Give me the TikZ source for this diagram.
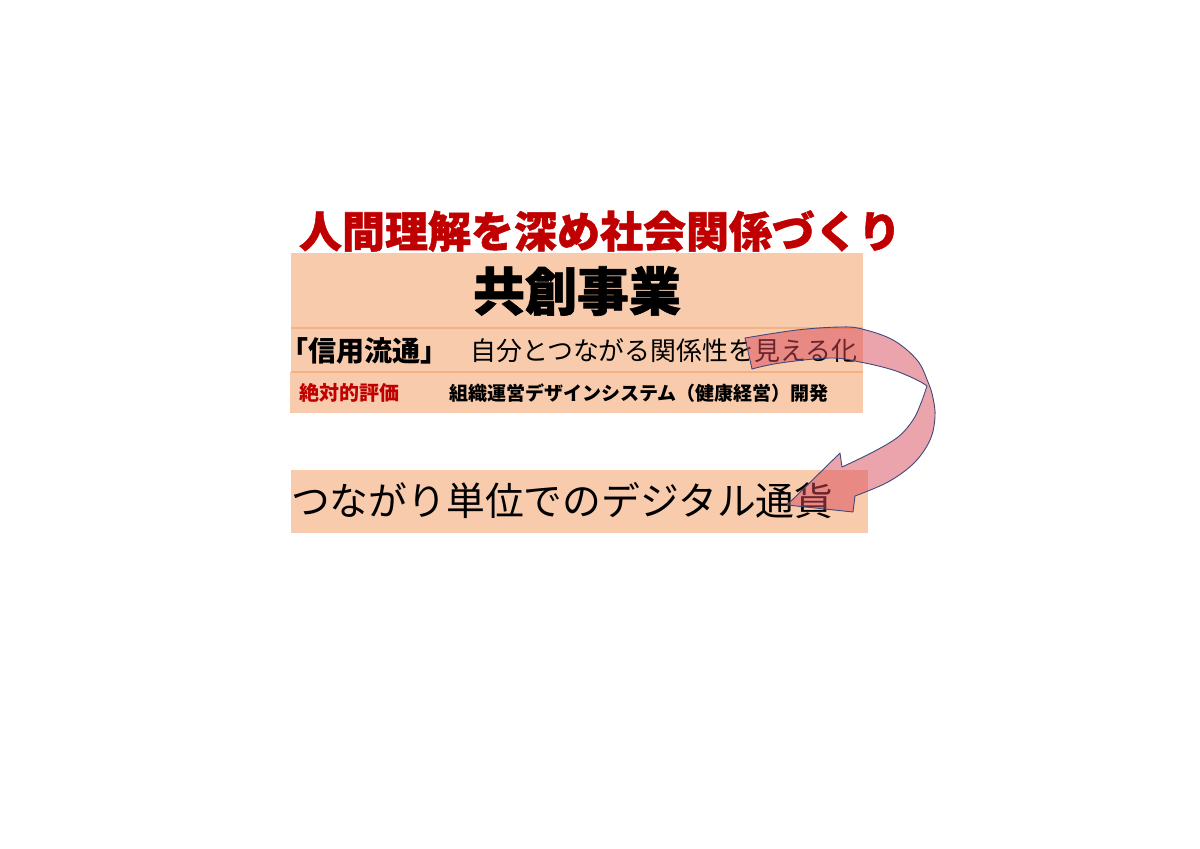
\documentclass[tikz,border=0pt]{standalone}
\usepackage{fontspec}
\newfontfamily\jp{Noto Sans CJK JP}
\newfontfamily\jpheavy[BoldFeatures={FakeBold=1.2}]{Noto Sans CJK JP}
\usetikzlibrary{calc}
\definecolor{peach}{HTML}{F8CBAD}
\definecolor{peachline}{HTML}{F4B183}
\definecolor{darkred}{HTML}{C00000}
\definecolor{arrowfill}{HTML}{D9485A}
\definecolor{arrowline}{HTML}{3F4A7A}
\tikzset{
  box/.style={fill=peach, draw=none},
  sep/.style={draw=peachline, line width=1.2pt},
  txt/.style={inner sep=0pt, outer sep=0pt, font=\jp},
  ribbon/.style={fill=arrowfill, fill opacity=0.5, draw=arrowline, line width=0.9pt, line join=round}
}
\begin{document}
\begin{tikzpicture}[x=1pt,y=-1pt]
\useasboundingbox[fill=white] (0,0) rectangle (1200,849);
% boxes
\path[box] (291,253) rectangle (863,328);
\path[box] (291,328) rectangle (863,372);
\path[box] (290,372) rectangle (863,413);
\path[box] (291,470) rectangle (868,533);
\draw[sep] (291,328) -- (863,328);
\draw[sep] (291,372) -- (863,372);
% title
\node[txt, font=\jpheavy\bfseries\fontsize{43}{43}\selectfont, text=darkred] (title) at (600,231) {人間理解を深め社会関係づくり};
% box 1
\node[txt, font=\jpheavy\bfseries\fontsize{52}{52}\selectfont] (kyoso) at (577,291) {共創事業};
% box 2
\node[txt, anchor=west, font=\jp\bfseries\fontsize{28}{28}\selectfont] (shinyo) at (280,351) {「信用流通」};
\node[txt, anchor=west, font=\jp\fontsize{25.9}{25.9}\selectfont] (jibun) at (470.5,351) {自分とつながる関係性を見える化};
% box 3
\node[txt, anchor=west, font=\jp\bfseries\fontsize{20}{20}\selectfont, text=darkred] (zettai) at (299,393) {絶対的評価};
\node[txt, anchor=west, font=\jp\bfseries\fontsize{19}{19}\selectfont] (soshiki) at (449,393) {組織運営デザインシステム（健康経営）開発};
% box 4
\node[txt, anchor=west, font=\jp\fontsize{38.8}{38.8}\selectfont] (tsunagari) at (291,501) {つながり単位でのデジタル通貨};
% curved arrow
\coordinate (tailA) at (745,338);
\coordinate (tailB) at (752,369);
\coordinate (barbL) at (853,512);
\coordinate (tip) at (787,505);
\coordinate (barbU) at (840,453);
\coordinate (neck) at (842,467);
\coordinate (twist) at (927,386);
\path[ribbon] (tailA) -- plot[smooth, tension=0.6] coordinates {(745,338) (797,330) (840,327) (862,329) (893,340) (917,360) (928,382) (933,398) (935,417) (930,440) (914,463) (888,482) (855,496)}
  -- (barbL) -- (tip) -- (barbU) -- (neck)
  -- plot[smooth, tension=0.6] coordinates {(842,467) (873,452) (898,437) (913,420) (921,403) (927,386)}
  -- plot[smooth, tension=0.6] coordinates {(927,386) (917,380) (893,370) (860,362) (830,358) (780,363) (752,369)}
  -- (tailB) -- cycle;
\end{tikzpicture}
\end{document}
